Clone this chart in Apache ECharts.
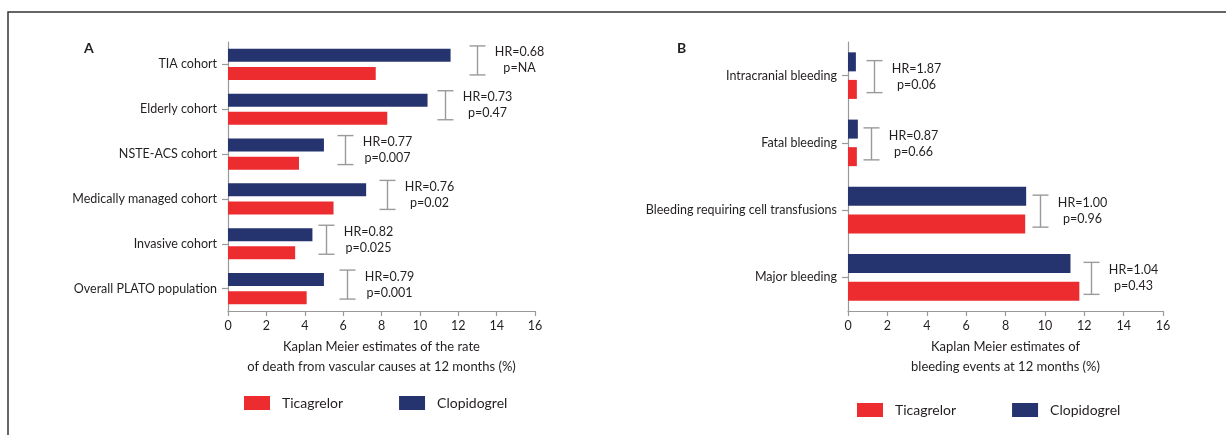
<!DOCTYPE html>
<html>
<head>
<meta charset="utf-8">
<script src="https://cdn.jsdelivr.net/npm/echarts@6/dist/echarts.min.js"></script>
<style>
html,body{margin:0;padding:0;background:#fff;}
#chart{width:1226px;height:435px;}
</style>
</head>
<body>
<div id="chart"></div>
<script>
// ---- Panel A data (top to bottom) ----
var categoriesA = ['TIA cohort', 'Elderly cohort', 'NSTE-ACS cohort', 'Medically managed cohort', 'Invasive cohort', 'Overall PLATO population'];
var ticagrelorA = [7.7, 8.3, 3.7, 5.5, 3.5, 4.1];
var clopidogrelA = [11.6, 10.4, 5.0, 7.2, 4.4, 5.0];
var hrA = ['0.68', '0.73', '0.77', '0.76', '0.82', '0.79'];
var pA = ['NA', '0.47', '0.007', '0.02', '0.025', '0.001'];
var hrAnchorA = [13.0, 11.3, 6.1, 8.3, 5.1, 6.2];

// ---- Panel B data (top to bottom) ----
var categoriesB = ['Intracranial bleeding', 'Fatal bleeding', 'Bleeding requiring cell transfusions', 'Major bleeding'];
var ticagrelorB = [0.45, 0.45, 9.0, 11.75];
var clopidogrelB = [0.4, 0.5, 9.05, 11.3];
var hrB = ['1.87', '0.87', '1.00', '1.04'];
var pB = ['0.06', '0.66', '0.96', '0.43'];
var hrAnchorB = [1.3, 1.15, 9.75, 12.35];

var xTicks = [0, 2, 4, 6, 8, 10, 12, 14, 16];
var titleA = 'Kaplan Meier estimates of the rate\nof death from vascular causes at 12 months (%)';
var titleB = 'Kaplan Meier estimates of\nbleeding events at 12 months (%)';
var legendNames = ['Ticagrelor', 'Clopidogrel'];

var RED = '#ED2C30';
var NAVY = '#25336F';
var TXT = '#231F20';
var AXIS = '#999999';
var FONT = 'Lato';

function hrRenderer(hr, p, dy, halfH) {
  return function (params, api) {
    var i = params.dataIndex;
    var pt = api.coord([api.value(0), api.value(1)]);
    var x = Math.round(pt[0]) + 0.5, cy = pt[1] + dy;
    var st = { stroke: '#9a9a9a', lineWidth: 1.4 };
    return {
      type: 'group',
      children: [
        { type: 'line', shape: { x1: x, y1: cy - halfH, x2: x, y2: cy + halfH }, style: st },
        { type: 'line', shape: { x1: x - 8, y1: cy - halfH, x2: x + 8, y2: cy - halfH }, style: st },
        { type: 'line', shape: { x1: x - 8, y1: cy + halfH, x2: x + 8, y2: cy + halfH }, style: st },
        { type: 'text', style: {
            text: 'HR=' + hr[i] + '\np=' + p[i],
            x: x + 42, y: cy, align: 'center', verticalAlign: 'middle',
            fontFamily: FONT, fontSize: 12.5, lineHeight: 16, fill: TXT } }
      ]
    };
  };
}

function valueAxis(gridIndex, name) {
  return {
    type: 'value', gridIndex: gridIndex, min: 0, max: 16, interval: 2,
    splitLine: { show: false },
    axisLine: { show: true, lineStyle: { color: AXIS, width: 1.2 } },
    axisTick: { show: true, length: 5, lineStyle: { color: AXIS, width: 1.2 } },
    axisLabel: { color: TXT, fontFamily: FONT, fontSize: 12.5, margin: 8,
      formatter: function (v) { return xTicks.indexOf(v) >= 0 ? String(v) : ''; } },
    name: name, nameLocation: 'middle', nameGap: 26,
    nameTextStyle: { color: TXT, fontFamily: FONT, fontSize: 13, lineHeight: 20, verticalAlign: 'top', align: 'center' }
  };
}

function catAxis(gridIndex, cats) {
  return {
    type: 'category', gridIndex: gridIndex, data: cats, inverse: true,
    axisLine: { show: true, lineStyle: { color: AXIS, width: 1.2 } },
    axisTick: { show: true, alignWithLabel: true, length: 6, lineStyle: { color: AXIS, width: 1.2 } },
    axisLabel: { color: TXT, fontFamily: FONT, fontSize: 12.5, margin: 11 }
  };
}

function barSeries(name, xi, yi, data, color, w, gap) {
  return {
    type: 'bar', name: name, xAxisIndex: xi, yAxisIndex: yi, data: data,
    barWidth: w, barGap: gap, itemStyle: { color: color }, silent: true, animation: false
  };
}

function legendAt(left, top) {
  return { data: legendNames, left: left, top: top, padding: 0, itemWidth: 26, itemHeight: 14, itemGap: 56, icon: 'rect',
    selectedMode: false, textStyle: { color: TXT, fontFamily: FONT, fontSize: 14, padding: [0, 0, 0, 7] } };
}

var chart = echarts.init(document.getElementById('chart'), null, { renderer: 'canvas' });
chart.setOption({
  animation: false,
  backgroundColor: '#ffffff',
  textStyle: { fontFamily: FONT },
  grid: [
    { left: 228, top: 42, width: 307, height: 269 },
    { left: 848, top: 42, width: 315, height: 269 }
  ],
  xAxis: [valueAxis(0, titleA), valueAxis(1, titleB)],
  yAxis: [catAxis(0, categoriesA), catAxis(1, categoriesB)],
  legend: [legendAt(244, 396), legendAt(857, 403)],
  graphic: [
    { type: 'rect', shape: { x: 8, y: 12, width: 1400, height: 600 }, style: { fill: 'none', stroke: '#333', lineWidth: 1.5 }, silent: true },
    { type: 'text', left: 84, top: 41, style: { text: 'A', fontFamily: FONT, fontWeight: 'bold', fontSize: 14, fill: TXT } },
    { type: 'text', left: 677, top: 41, style: { text: 'B', fontFamily: FONT, fontWeight: 'bold', fontSize: 14, fill: TXT } }
  ],
  series: [
    barSeries('Clopidogrel', 0, 0, clopidogrelA, NAVY, 13, '40%'),
    barSeries('Ticagrelor', 0, 0, ticagrelorA, RED, 13, '40%'),
    barSeries('Clopidogrel', 1, 1, clopidogrelB, NAVY, 19, '45%'),
    barSeries('Ticagrelor', 1, 1, ticagrelorB, RED, 19, '45%'),
    { type: 'custom', xAxisIndex: 0, yAxisIndex: 0, silent: true,
      data: hrAnchorA.map(function (v, i) { return [v, i]; }),
      encode: { x: 0, y: 1 }, renderItem: hrRenderer(hrA, pA, -4, 14.5) },
    { type: 'custom', xAxisIndex: 1, yAxisIndex: 1, silent: true,
      data: hrAnchorB.map(function (v, i) { return [v, i]; }),
      encode: { x: 0, y: 1 }, renderItem: hrRenderer(hrB, pB, 1, 16) }
  ]
});
</script>
</body>
</html>
